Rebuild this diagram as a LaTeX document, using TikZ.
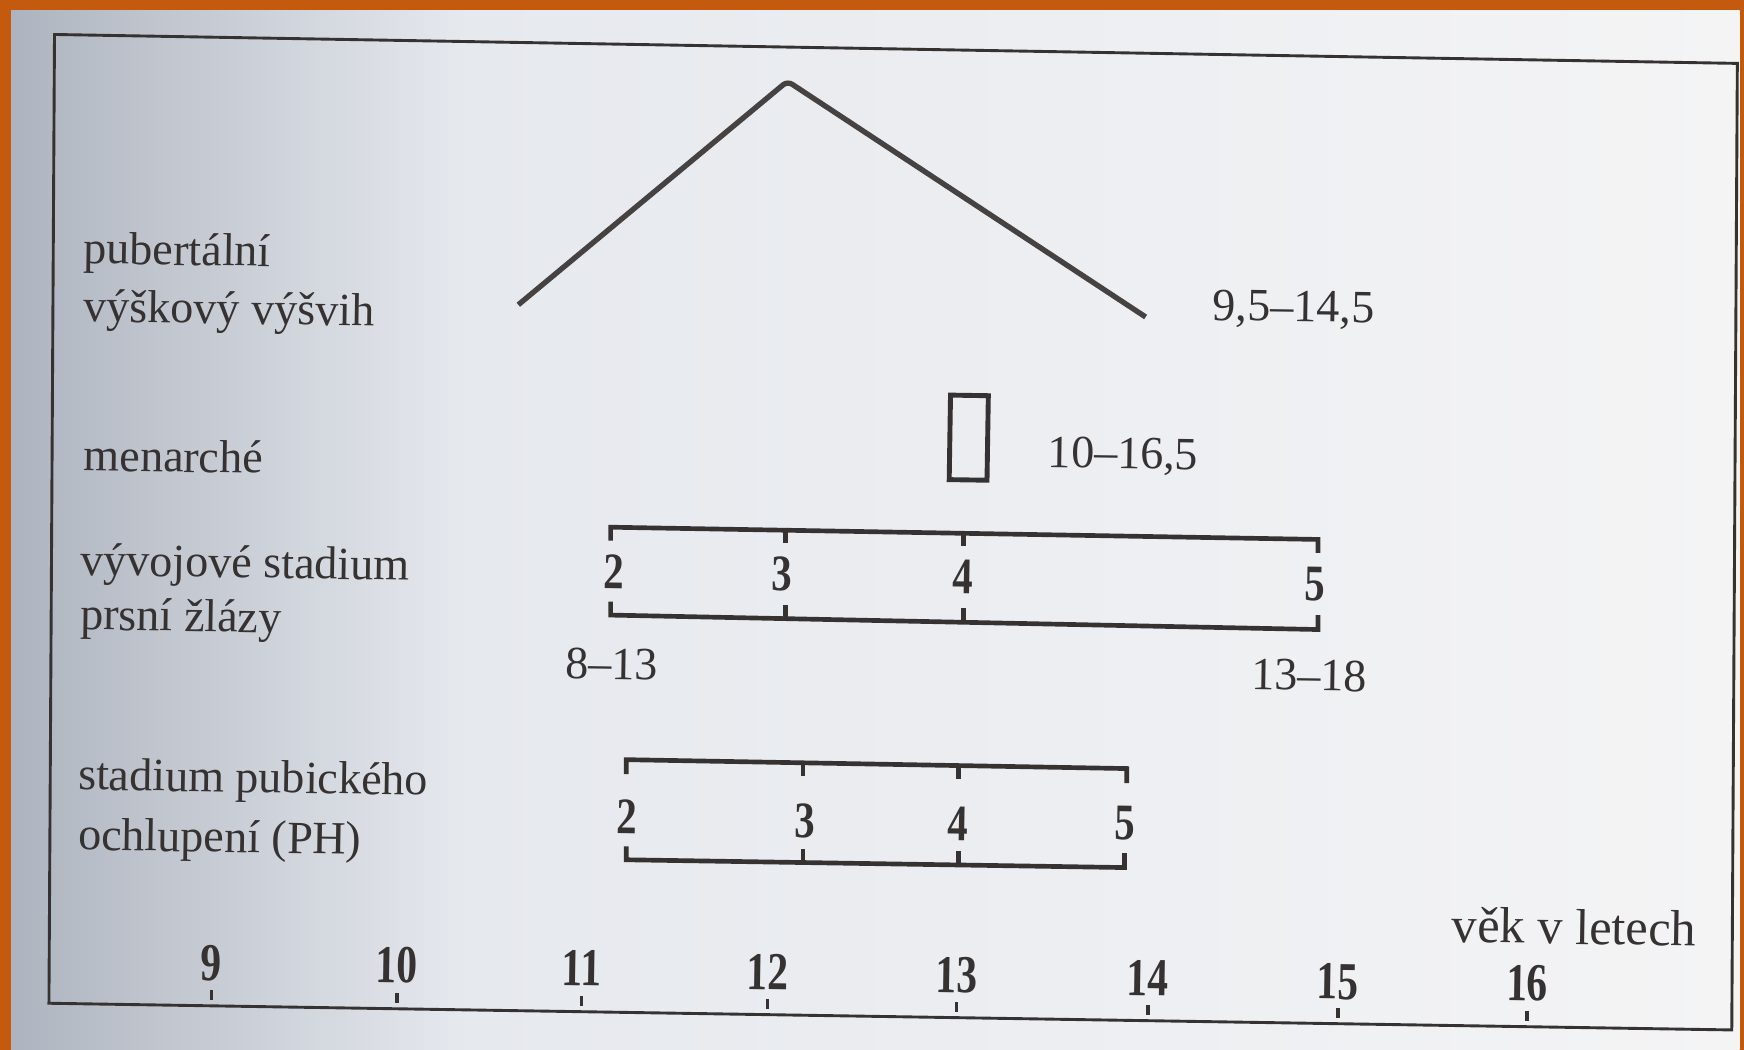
\documentclass[tikz,border=0pt]{standalone}
\usepackage{fontspec}
\setmainfont{Liberation Serif}
\definecolor{ink}{HTML}{363232}
\definecolor{orangebg}{HTML}{C45A0E}
\definecolor{paperA}{HTML}{AEB4BF}
\definecolor{paperB}{HTML}{E6E9EE}
\definecolor{paperC}{HTML}{F4F4F5}
\begin{document}
\begin{tikzpicture}[x=1pt,y=-1pt,
  lbl/.style={anchor=base west, inner sep=0pt, font=\fontsize{41.5}{48}\selectfont, text=ink, rotate=-0.9},
  num/.style={anchor=center, inner sep=0pt, font=\fontsize{46}{50}\selectfont\bfseries, text=ink, rotate=-0.9, xscale=0.8},
  axnum/.style={anchor=center, inner sep=0pt, font=\fontsize{48}{52}\selectfont\bfseries, text=ink, rotate=-0.9, xscale=0.78},
  frameline/.style={draw=ink, line width=2.6pt, line join=miter},
  bar/.style={draw=ink, line width=4.2pt, line cap=butt, line join=miter},
  tickmark/.style={draw=ink, line width=3pt},
  spur/.style={draw=ink!92, line width=4.8pt, line join=round, line cap=butt, rounded corners=5pt},
  menbox/.style={draw=ink, line width=4.4pt}
]
\useasboundingbox (0,0) rectangle (1568,944);
% background: orange slide and scanned paper
\fill[orangebg] (0,0) rectangle (1568,944);
\shade[left color=paperA, right color=paperB] (10,9) rectangle (420,944);
\shade[left color=paperB, right color=paperC] (419.5,9) rectangle (1564,944);

% frame (slightly skewed scan)
\coordinate (fTL) at (49,31);
\coordinate (fTR) at (1562,57);
\coordinate (fBR) at (1557,926);
\coordinate (fBL) at (44,902);
\draw[frameline] (fTL) -- (fTR) -- (fBR) -- (fBL) -- cycle;

% pubertal growth spurt
\coordinate (sL) at (466,274);
\coordinate (sP) at (708,73);
\coordinate (sR) at (1030,285);
\draw[spur] (sL) -- (sP) -- (sR);
\node[lbl] (spurlbl) at (1090,288) {9,5–14,5};

% menarche
\draw[menbox, rotate around={-0.9:(871,393)}] (854,355.5) rectangle (888,431.5);
\node[lbl] (menlbl) at (942,420) {10–16,5};

% breast development stages
\draw[bar] (549,486) -- (549,474) -- (1185,485) -- (1185,497);
\draw[bar] (706,476.7) -- (706,488);
\draw[bar] (866,479.5) -- (866,491);
\draw[bar] (549,541) -- (549,553) -- (1185,566) -- (1185,553);
\draw[bar] (706,556.2) -- (706,544);
\draw[bar] (866,559.5) -- (866,547);
\node[num] (b2) at (552,514) {2};
\node[num] (b3) at (703,516) {3};
\node[num] (b4) at (866,519) {4};
\node[num] (b5) at (1182,525) {5};
\node[lbl] (brL) at (508,610) {8–13};
\node[lbl] (brR) at (1125,620) {13–18};

% pubic hair stages
\draw[bar] (563,696) -- (563,683) -- (1013,691) -- (1013,704);
\draw[bar] (722,685.8) -- (722,698);
\draw[bar] (862,688.3) -- (862,700);
\draw[bar] (563,761) -- (563,773) -- (1011,780) -- (1011,767);
\draw[bar] (722,775.5) -- (722,763);
\draw[bar] (862,777.7) -- (862,765);
\node[num] (p2) at (564,734) {2};
\node[num] (p3) at (724,738) {3};
\node[num] (p4) at (861,741) {4};
\node[num] (p5) at (1011,740) {5};

% row labels
\node[lbl] (pub1) at (75,237) {pubertální};
\node[lbl] (pub2) at (75,289) {výškový výšvih};
\node[lbl] (men) at (75,423) {menarché};
\node[lbl] (bre1) at (72,517) {vývojové stadium};
\node[lbl] (bre2) at (72,566) {prsní žlázy};
\node[lbl] (phl1) at (70,710) {stadium pubického};
\node[lbl] (phl2) at (70,764) {ochlupení (PH)};

% age axis
\node[lbl, font=\fontsize{45.5}{50}\selectfont] (vek) at (1305,847) {věk v letech};
\foreach \n/\x/\y/\ly in {9/190/865.6/904.3, 10/357/867.6/907.0, 11/523/870.6/909.6, 12/690/873.7/912.2,
                          13/860/876.7/914.9, 14/1032/879.6/917.7, 15/1203/882.7/920.4, 16/1373/884.1/923.1}{
  \node[axnum] (a\n) at (\x,\y) {\n};
  \draw[tickmark] (\x,\ly-14) -- (\x,\ly-5);
}
\end{tikzpicture}
\end{document}
